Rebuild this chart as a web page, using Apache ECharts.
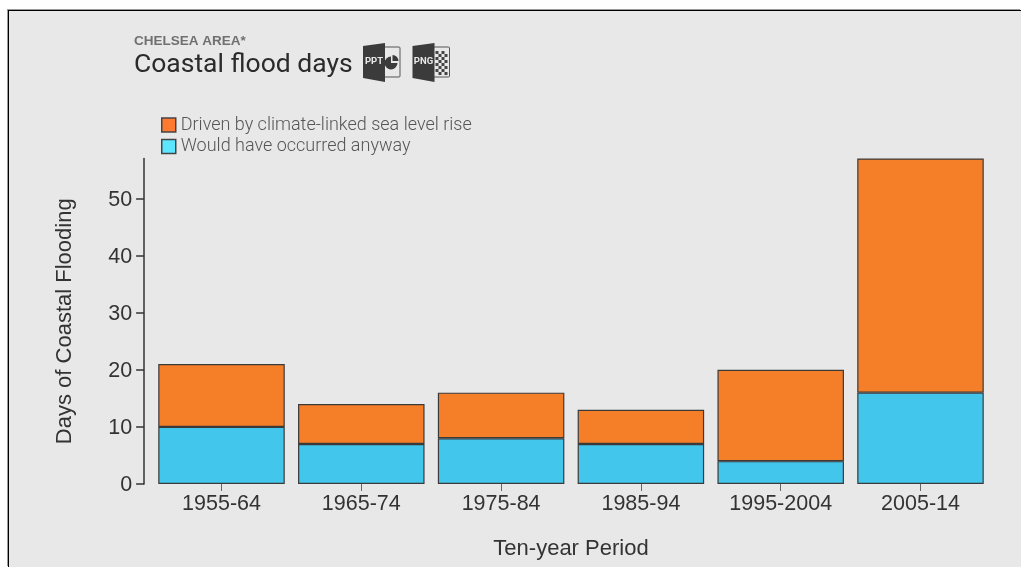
<!DOCTYPE html>
<html>
<head>
<meta charset="utf-8">
<style>
html,body{margin:0;padding:0;background:#fff;overflow:hidden}
#frame{position:absolute;left:8px;top:10px;width:1013px;height:557px;background:#e8e8e8;border-top:1px solid #000;border-left:1px solid #000;box-shadow:-1px -1px 0 #999;box-sizing:border-box}
#chart{position:absolute;left:0;top:0;width:1021px;height:567px}
</style>
<script src="https://cdn.jsdelivr.net/npm/echarts@6/dist/echarts.min.js"></script>
</head>
<body>
<div id="frame"></div>
<div id="chart"></div>
<script>
const periods = ['1955-64', '1965-74', '1975-84', '1985-94', '1995-2004', '2005-14'];
const anyway = [10, 7, 8, 7, 4, 16];
const climate = [11, 7, 8, 6, 16, 41];
const climateName = 'Driven by climate-linked sea level rise';
const anywayName = 'Would have occurred anyway';

const ink = '#333333';
const axisFont = 'Arial, "Liberation Sans", sans-serif';

// Export badge: dark folded cover with a tag, plus a small glyph on the paper side.
function badge(x, tag, glyph) {
  return {
    type: 'group', x: x, y: 43,
    children: [
      { type: 'rect', shape: { x: 20, y: 4, width: 17, height: 30, r: 1 },
        style: { fill: '#e8e8e8', stroke: '#555', lineWidth: 1 } },
      ...glyph,
      { type: 'polygon', shape: { points: [[0, 3], [22, 0], [22, 39], [0, 35]] },
        style: { fill: '#3b3b3b' } },
      { type: 'text', x: 11, y: 19,
        style: { text: tag, font: 'bold 9.5px Roboto', fill: '#e8e8e8', align: 'center', verticalAlign: 'middle' } }
    ]
  };
}

const pieGlyph = [
  { type: 'sector', shape: { cx: 28, cy: 20, r0: 0, r: 6.5, startAngle: 0, endAngle: Math.PI * 1.5 },
    style: { fill: '#3b3b3b' } },
  { type: 'sector', shape: { cx: 29.5, cy: 18, r0: 0, r: 6, startAngle: Math.PI * 1.5, endAngle: Math.PI * 2 },
    style: { fill: '#3b3b3b' } }
];

// Checkerboard swatch on the PNG badge.
const checkGlyph = [];
for (let r = 0; r < 8; r++) {
  for (let c = 0; c < 4; c++) {
    if ((r + c) % 2 === 0) {
      checkGlyph.push({
        type: 'rect',
        shape: { x: 23 + c * 3, y: 8 + r * 3, width: 3, height: 3 },
        style: { fill: '#444' }
      });
    }
  }
}

const chart = echarts.init(document.getElementById('chart'), null, { renderer: 'canvas' });
chart.setOption({
  backgroundColor: 'transparent',
  animation: false,
  title: [
    { text: 'CHELSEA AREA*', left: 129, top: 29,
      textStyle: { fontFamily: axisFont, fontSize: 13.5, fontWeight: 'bold', color: '#707070' } },
    { text: 'Coastal flood days', left: 129, top: 47,
      textStyle: { fontFamily: 'Roboto', fontSize: 26.5, fontWeight: 'normal', color: '#2b2b2b' } }
  ],
  legend: {
    left: 156, top: 111, orient: 'vertical', itemWidth: 14, itemHeight: 14, itemGap: 3.5,
    selectedMode: false, icon: 'rect',
    textStyle: { fontFamily: 'Roboto', fontSize: 18, fontWeight: 300, color: '#555', padding: [0, 0, 0, 0] },
    data: [
      { name: climateName, itemStyle: { color: '#ff7a30', borderColor: '#444', borderWidth: 1.5 } },
      { name: anywayName, itemStyle: { color: '#5ce6ff', borderColor: '#444', borderWidth: 1.5 } }
    ]
  },
  grid: { left: 151.6, right: 1021 - 990.4, top: 158.5, bottom: 567 - 484 },
  xAxis: {
    type: 'category', data: periods,
    name: 'Ten-year Period', nameLocation: 'middle', nameGap: 54,
    nameTextStyle: { fontFamily: axisFont, fontSize: 22, color: ink },
    axisLine: { show: false },
    axisTick: { show: true, alignWithLabel: true, length: 7, lineStyle: { color: '#666', width: 1 } },
    axisLabel: { fontFamily: axisFont, fontSize: 21.5, color: ink, margin: 9 }
  },
  yAxis: {
    type: 'value', min: 0, max: 57, interval: 10, offset: 7.5,
    name: 'Days of Coastal Flooding', nameLocation: 'middle', nameGap: 68,
    nameTextStyle: { fontFamily: axisFont, fontSize: 22, color: ink },
    axisLine: { show: true, lineStyle: { color: '#333', width: 1.5 } },
    axisTick: { show: true, length: 8, lineStyle: { color: '#333', width: 1.5 } },
    axisLabel: {
      color: ink, margin: 12, showMaxLabel: false,
      formatter: '{v|{value}}',
      rich: { v: { fontFamily: axisFont, fontSize: 21.5, color: ink, padding: [3, 0, 0, 0] } }
    },
    splitLine: { show: false }
  },
  series: [
    { name: anywayName, type: 'bar', stack: 'days', data: anyway, barWidth: 126.5,
      itemStyle: { color: '#43c6eb', borderColor: '#3a3a3a', borderWidth: 1.2 } },
    { name: climateName, type: 'bar', stack: 'days', data: climate, barWidth: 126.5,
      itemStyle: { color: '#f47f28', borderColor: '#3a3a3a', borderWidth: 1.2 } }
  ],
  graphic: [
    badge(363, 'PPT', pieGlyph),
    badge(412.5, 'PNG', checkGlyph)
  ]
});
</script>
</body>
</html>
